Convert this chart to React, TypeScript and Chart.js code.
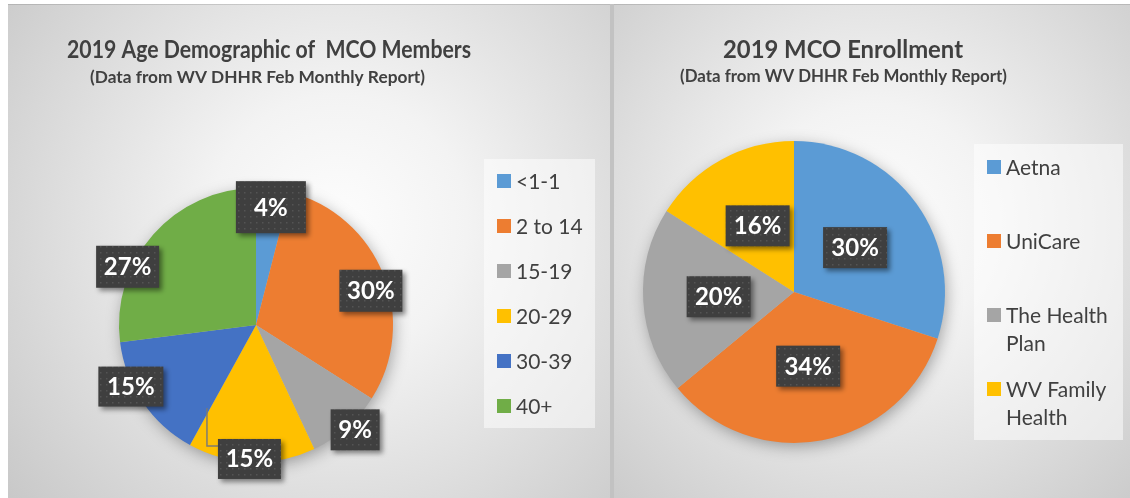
import React, { useEffect, useRef } from "react";
import { Chart, registerables } from "chart.js";

Chart.register(...registerables);

// ---------- data ----------
const ageCategories = ["<1-1", "2 to 14", "15-19", "20-29", "30-39", "40+"];
const ageShares = [4, 30, 9, 15, 15, 27];
const mcoCategories = ["Aetna", "UniCare", "The Health Plan", "WV Family Health"];
const mcoShares = [30, 34, 20, 16];

const ageTitle = "2019 Age Demographic of  MCO Members";
const mcoTitle = "2019 MCO Enrollment";
const sourceNote = "(Data from WV DHHR Feb Monthly Report)";

// ---------- styles ----------
const ageColors = ["#5B9BD5", "#ED7D31", "#A5A5A5", "#FFC000", "#4472C4", "#70AD47"];
const mcoColors = ["#5B9BD5", "#ED7D31", "#A5A5A5", "#FFC000"];
const FONT = "Lato, 'Open Sans', sans-serif";
const TEXT = "#404040";

// label placement (radius factor, angle nudge in degrees, box w, box h)
const ageLabelRadius = [0.867, 0.875, 1.053, 0.979, 1.018, 1.029];
const ageLabelNudge = [0, 5, -2, 1, 8, -17];
const ageLabelBox = [[70, 52], [63, 42], [49, 41], [63, 40], [65, 40], [63, 42]];
const mcoLabelRadius = [0.5, 0.5, 0.5, 0.5];
const mcoLabelNudge = [0, 0, 0, 0];
const mcoLabelBox = [[64, 41], [64, 41], [64, 41], [64, 41]];

type PanelCfg = {
  title: string; titleSize: number; titleX: number; titleY: number; titleW: number;
  sub: string; subSize: number; subX: number; subY: number; subW: number;
  grad: [number, number, number];
  legend: { box: [number, number, number, number]; markerX: number; textX: number; firstY: number; step: number; lineH: number; wrap: number };
  labels: string[]; colors: string[]; values: number[];
  radius: number[]; nudge: number[]; boxes: number[][];
  leader?: number;
};

let dotPattern: CanvasPattern | null = null;
function getPattern(ctx: CanvasRenderingContext2D) {
  if (dotPattern) return dotPattern;
  const c = document.createElement("canvas");
  c.width = 6; c.height = 6;
  const g = c.getContext("2d")!;
  g.fillStyle = "#3f3f3f";
  g.fillRect(0, 0, 6, 6);
  g.fillStyle = "#545454";
  g.fillRect(2, 2, 1.5, 1.5);
  dotPattern = ctx.createPattern(c, "repeat");
  return dotPattern;
}

function wrapText(ctx: CanvasRenderingContext2D, text: string, max: number) {
  const words = text.split(" ");
  const lines: string[] = [];
  let cur = "";
  for (const w of words) {
    const t = cur ? cur + " " + w : w;
    if (ctx.measureText(t).width > max && cur) { lines.push(cur); cur = w; } else cur = t;
  }
  if (cur) lines.push(cur);
  return lines;
}

function fitText(ctx: CanvasRenderingContext2D, text: string, cx: number, y: number, target: number) {
  const w = ctx.measureText(text).width;
  const s = target / w;
  ctx.save();
  ctx.translate(cx, y);
  ctx.scale(s, 1);
  ctx.textAlign = "center";
  ctx.fillText(text, 0, 0);
  ctx.restore();
}

function makePlugin(cfg: PanelCfg) {
  return {
    id: "panel",
    beforeDraw(chart: any) {
      const { ctx, width, height } = chart;
      ctx.save();
      const [gx, gy, gr] = cfg.grad;
      const g = ctx.createRadialGradient(gx, gy, 0, gx, gy, gr);
      g.addColorStop(0, "#fdfdfd");
      g.addColorStop(0.3, "#f3f3f3");
      g.addColorStop(1, "#c8c8c8");
      ctx.fillStyle = g;
      ctx.fillRect(0, 0, width, height);
      ctx.fillStyle = "rgba(0,0,0,0.12)";
      ctx.fillRect(0, 0, width, 1);
      ctx.restore();
    },
    beforeDatasetsDraw(chart: any) {
      const arc = chart.getDatasetMeta(0).data[0];
      if (!arc) return;
      const { x, y, outerRadius } = arc.getProps(["x", "y", "outerRadius"], true);
      const ctx = chart.ctx;
      ctx.save();
      ctx.shadowColor = "rgba(0,0,0,0.35)";
      ctx.shadowBlur = 16;
      ctx.shadowOffsetX = 2;
      ctx.shadowOffsetY = 4;
      ctx.fillStyle = "#bbbbbb";
      ctx.beginPath();
      ctx.arc(x, y, outerRadius - 1, 0, Math.PI * 2);
      ctx.fill();
      ctx.restore();
    },
    afterDatasetsDraw(chart: any) {
      const ctx = chart.ctx as CanvasRenderingContext2D;
      const meta = chart.getDatasetMeta(0);
      const total = cfg.values.reduce((a, b) => a + b, 0);
      meta.data.forEach((arc: any, i: number) => {
        const { x, y, startAngle, endAngle, outerRadius } = arc.getProps(["x", "y", "startAngle", "endAngle", "outerRadius"], true);
        const mid = (startAngle + endAngle) / 2 + (cfg.nudge[i] * Math.PI) / 180;
        const r = outerRadius * cfg.radius[i];
        const lx = x + Math.cos(mid) * r;
        const ly = y + Math.sin(mid) * r;
        const [bw, bh] = cfg.boxes[i];
        const bx = lx - bw / 2, by = ly - bh / 2;
        ctx.save();
        if (cfg.leader === i) {
          ctx.strokeStyle = "rgba(120,120,120,0.95)";
          ctx.lineWidth = 1.5;
          ctx.beginPath();
          ctx.moveTo(bx, by + 7);
          ctx.lineTo(bx - 11, by + 7);
          ctx.lineTo(bx - 11, by - 31);
          ctx.stroke();
        }
        ctx.shadowColor = "rgba(0,0,0,0.45)";
        ctx.shadowBlur = 5;
        ctx.shadowOffsetX = 3;
        ctx.shadowOffsetY = 3;
        ctx.fillStyle = getPattern(ctx) || "#404040";
        ctx.fillRect(bx, by, bw, bh);
        ctx.shadowColor = "transparent";
        ctx.fillStyle = "#ffffff";
        ctx.font = `bold 24px ${FONT}`;
        ctx.textAlign = "center";
        ctx.textBaseline = "alphabetic";
        const pct = Math.round((cfg.values[i] / total) * 100) + "%";
        ctx.fillText(pct, lx, ly + 8.5);
        ctx.restore();
      });
    },
    afterDraw(chart: any) {
      const ctx = chart.ctx as CanvasRenderingContext2D;
      ctx.save();
      ctx.fillStyle = TEXT;
      ctx.textBaseline = "alphabetic";
      ctx.font = `bold ${cfg.titleSize}px ${FONT}`;
      fitText(ctx, cfg.title, cfg.titleX, cfg.titleY, cfg.titleW);
      ctx.font = `bold ${cfg.subSize}px ${FONT}`;
      fitText(ctx, cfg.sub, cfg.subX, cfg.subY, cfg.subW);
      // legend
      const L = cfg.legend;
      const [x0, y0, x1, y1] = L.box;
      ctx.fillStyle = "rgba(255,255,255,0.5)";
      ctx.fillRect(x0, y0, x1 - x0, y1 - y0);
      ctx.font = `21px ${FONT}`;
      ctx.textAlign = "left";
      cfg.labels.forEach((lab, i) => {
        const cy = L.firstY + L.step * i;
        ctx.fillStyle = cfg.colors[i];
        ctx.fillRect(L.markerX, cy - 7, 14, 14);
        ctx.fillStyle = TEXT;
        const lines = wrapText(ctx, lab, L.wrap);
        lines.forEach((ln, k) => ctx.fillText(ln, L.textX, cy + 7.5 + k * L.lineH));
      });
      ctx.restore();
    },
  };
}

function PieChart(props: { cfg: PanelCfg; w: number; h: number; left: number; pad: any }) {
  const ref = useRef<HTMLCanvasElement>(null);
  useEffect(() => {
    const { cfg } = props;
    const chart = new Chart(ref.current!, {
      type: "pie",
      data: {
        labels: cfg.labels,
        datasets: [{ data: cfg.values, backgroundColor: cfg.colors, borderWidth: 0 }],
      },
      options: {
        responsive: false,
        animation: false,
        layout: { padding: props.pad },
        plugins: { legend: { display: false }, tooltip: { enabled: false }, title: { display: false } },
      },
      plugins: [makePlugin(cfg)],
    });
    return () => chart.destroy();
  }, []);
  return (
    <canvas
      ref={ref}
      width={props.w}
      height={props.h}
      style={{ position: "absolute", left: props.left, top: 4, width: props.w, height: props.h }}
    />
  );
}

const ageCfg: PanelCfg = {
  title: ageTitle, titleSize: 24, titleX: 261, titleY: 54, titleW: 404,
  sub: sourceNote, subSize: 17, subX: 249.5, subY: 79, subW: 335,
  grad: [330, 220, 430],
  legend: { box: [476, 155, 587, 424], markerX: 489, textX: 508, firstY: 177, step: 45, lineH: 28.5, wrap: 115 },
  labels: ageCategories, colors: ageColors, values: ageShares,
  radius: ageLabelRadius, nudge: ageLabelNudge, boxes: ageLabelBox, leader: 3,
};

const mcoCfg: PanelCfg = {
  title: mcoTitle, titleSize: 24, titleX: 229, titleY: 54, titleW: 240,
  sub: sourceNote, subSize: 16.5, subX: 229.5, subY: 78, subW: 327,
  grad: [260, 220, 400],
  legend: { box: [360, 140, 509, 436], markerX: 373, textX: 392, firstY: 163, step: 74, lineH: 28.5, wrap: 115 },
  labels: mcoCategories, colors: mcoColors, values: mcoShares,
  radius: mcoLabelRadius, nudge: mcoLabelNudge, boxes: mcoLabelBox,
};

export default function App() {
  return (
    <div style={{ position: "absolute", left: 0, top: 0, width: 1130, height: 498, background: "#ffffff", overflow: "hidden" }}>
      <PieChart cfg={ageCfg} w={602} h={494} left={8} pad={{ left: 111, top: 184, right: 217, bottom: 36 }} />
      <div style={{ position: "absolute", left: 610, top: 4, width: 4, height: 494, background: "#c2c2c2" }} />
      <PieChart cfg={mcoCfg} w={516} h={494} left={614} pad={{ left: 29, top: 137, right: 185, bottom: 55 }} />
    </div>
  );
}
